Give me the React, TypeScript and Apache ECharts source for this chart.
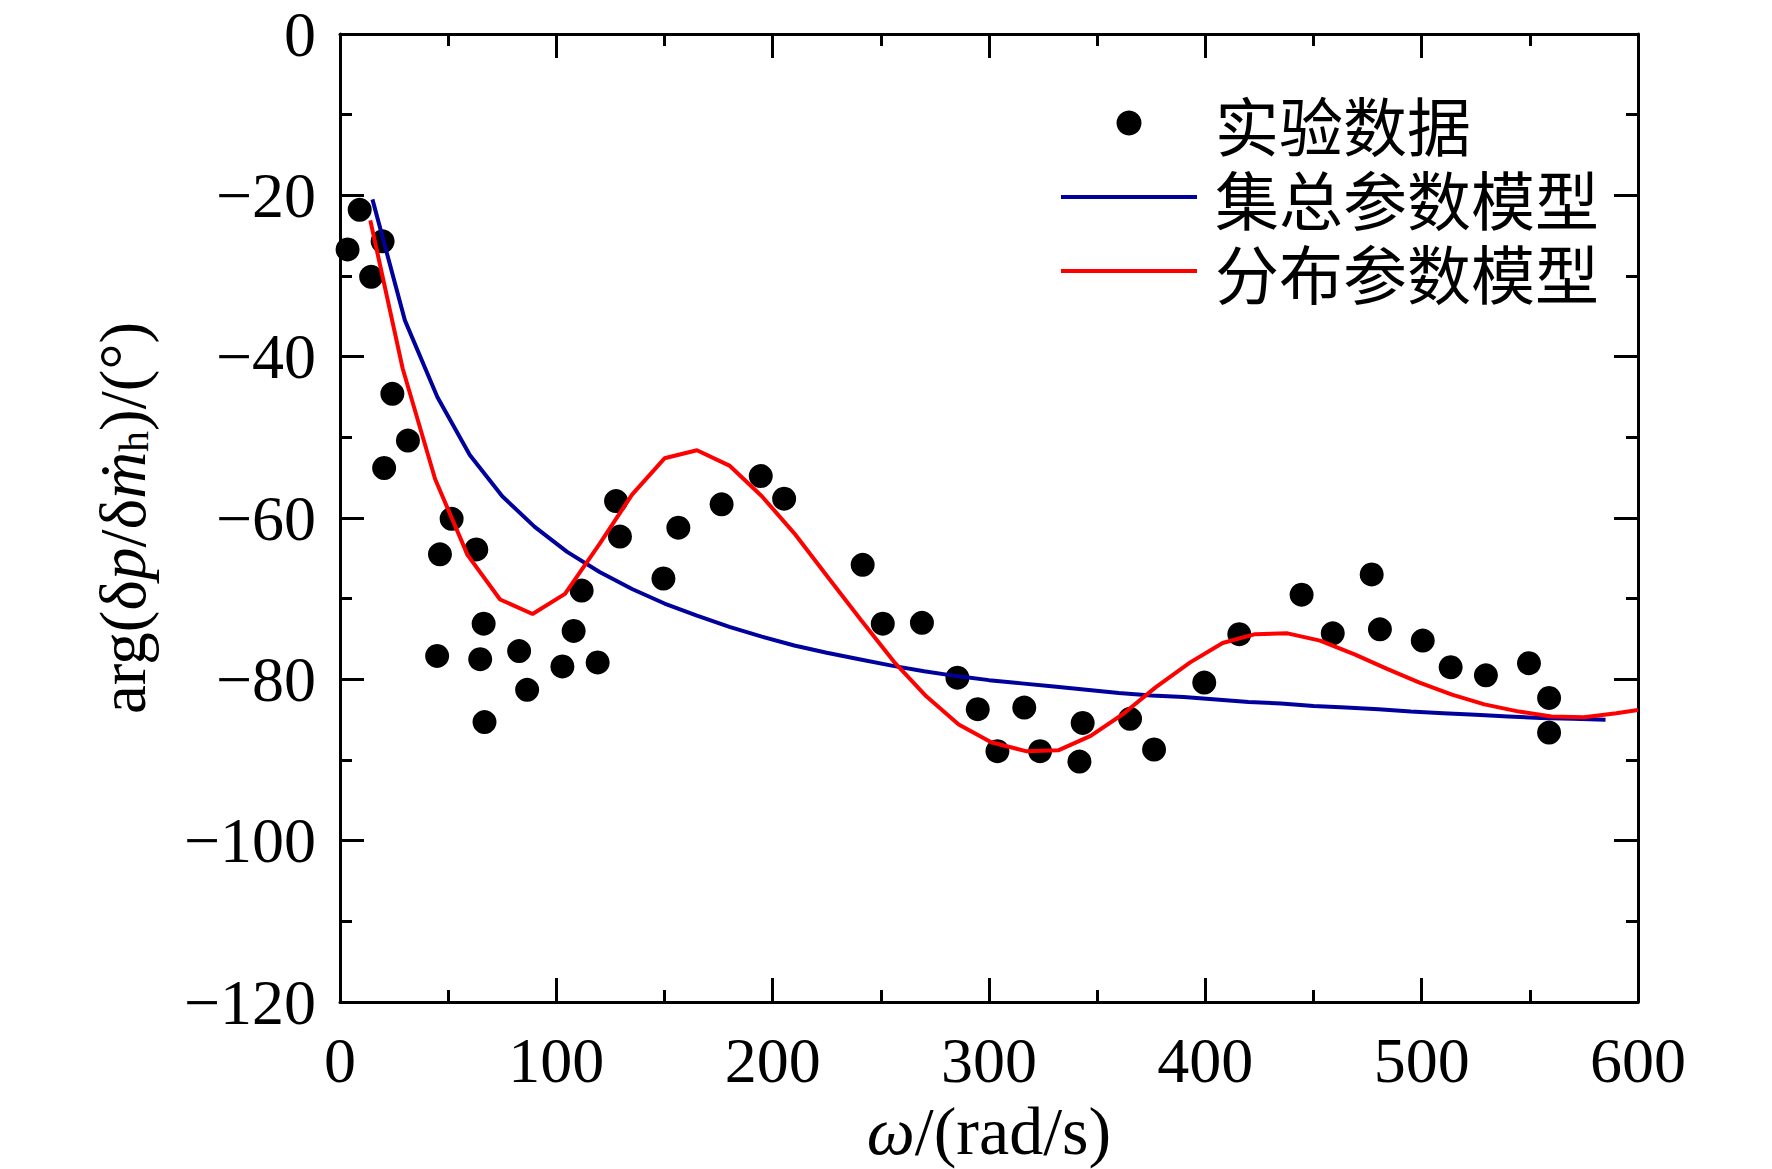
import React, { useEffect, useRef } from 'react';
import * as echarts from 'echarts';

// Experimental data: angular frequency (rad/s) and phase (deg)
const expOmega = [3.5, 9.1, 19.7, 14.4, 24.2, 31.4, 20.4, 51.6, 46.2, 63.0, 127.6, 129.4, 156.4, 176.4, 194.5, 205.3, 149.5, 111.7, 66.4, 108.0, 44.9, 64.8, 82.8, 102.8, 119.1, 86.5, 66.8, 241.6, 250.9, 269.0, 285.4, 294.8, 316.3, 303.9, 323.6, 343.3, 341.8, 365.2, 376.3, 399.5, 415.7, 444.5, 458.9, 476.9, 480.7, 500.5, 513.4, 529.7, 549.6, 558.9, 558.9];
const expPhase = [-26.7, -21.8, -25.7, -30.1, -44.6, -50.4, -53.8, -60.1, -64.5, -63.9, -57.9, -62.3, -61.2, -58.3, -54.8, -57.6, -67.5, -69.0, -73.1, -74.0, -77.1, -77.5, -76.5, -78.4, -77.9, -81.3, -85.3, -65.8, -73.1, -73.0, -79.8, -83.7, -83.5, -88.9, -88.9, -85.4, -90.2, -84.9, -88.7, -80.4, -74.4, -69.5, -74.3, -67.0, -73.8, -75.2, -78.5, -79.5, -78.0, -82.3, -86.6];

// Lumped parameter model
const lumpedOmega = [15, 30, 45, 60, 75, 90, 105, 120, 135, 150, 165, 180, 195, 210, 225, 240, 255, 270, 285, 300, 315, 330, 345, 360, 375, 390, 405, 420, 435, 450, 465, 480, 495, 510, 525, 540, 555, 570, 585];
const lumpedPhase = [-20.5, -35.5, -45.0, -52.2, -57.3, -61.1, -64.2, -66.7, -68.8, -70.6, -72.1, -73.5, -74.7, -75.8, -76.7, -77.5, -78.3, -79.0, -79.6, -80.1, -80.5, -80.9, -81.3, -81.7, -82.0, -82.2, -82.5, -82.8, -83.0, -83.3, -83.5, -83.7, -84.0, -84.2, -84.4, -84.6, -84.8, -84.9, -85.0];

// Distributed parameter model
const distOmega = [14, 29, 44, 59, 74, 89, 104, 120, 135, 150, 165, 180, 195, 210, 226, 241, 256, 271, 286, 301, 317, 332, 347, 362, 377, 393, 408, 423, 438, 453, 469, 484, 499, 514, 529, 545, 560, 575, 590, 600];
const distPhase = [-23.1, -41.5, -55.2, -64.6, -70.1, -71.9, -69.4, -63.2, -57.1, -52.6, -51.6, -53.5, -57.3, -61.9, -67.5, -72.7, -77.8, -82.1, -85.6, -87.8, -88.9, -88.8, -87.0, -84.3, -81.0, -77.9, -75.5, -74.4, -74.3, -75.2, -76.9, -78.7, -80.4, -81.9, -83.1, -84.0, -84.6, -84.7, -84.2, -83.8];

const seriesNames = ['实验数据', '集总参数模型', '分布参数模型'];
const xTicks = { min: 0, max: 600, interval: 100 };
const yTicks = { min: -120, max: 0, interval: 20 };

const SERIF = '"Liberation Serif", "Times New Roman", "DejaVu Serif", serif';
const CJK = '"Noto Sans CJK SC", "Noto Sans CJK JP", sans-serif';

export default function App() {
  const ref = useRef<HTMLDivElement>(null);

  useEffect(() => {
    if (!ref.current) return;
    const chart = echarts.init(ref.current, null, { renderer: 'svg' });

    const axisLine = { show: true, onZero: false, lineStyle: { color: '#000', width: 3 } };
    const axisTick = { show: true, inside: true, length: 24, lineStyle: { color: '#000', width: 3 } };
    const minorTick = { show: true, splitNumber: 2, length: 12, lineStyle: { color: '#000', width: 3 } };
    const labelStyle = { color: '#000', fontSize: 64, fontFamily: SERIF };
    const minus = (v: number) => (v < 0 ? '\u2212' + Math.abs(v) : String(v));

    const legendLine = 'path://M0 0H136V4H0Z';

    chart.setOption({
      animation: false,
      backgroundColor: '#fff',
      grid: { left: 340, right: 134, top: 34, bottom: 167, outerBoundsMode: 'none', containLabel: false },
      legend: {
        orient: 'vertical',
        left: 1061,
        top: 91,
        padding: 0,
        itemGap: 10,
        itemWidth: 136,
        itemHeight: 25,
        selectedMode: false,
        textStyle: { color: '#000', fontSize: 64, lineHeight: 64, fontFamily: CJK, padding: [0, 0, 0, 13] },
        data: [
          { name: seriesNames[0], icon: 'circle' },
          { name: seriesNames[1], icon: legendLine },
          { name: seriesNames[2], icon: legendLine },
        ],
      },
      xAxis: [
        {
          type: 'value', position: 'bottom', ...xTicks,
          axisLine, axisTick, minorTick,
          splitLine: { show: false }, minorSplitLine: { show: false },
          axisLabel: { ...labelStyle, margin: 26 },
          name: '{i|ω}{n|/(rad/s)}',
          nameLocation: 'middle',
          nameGap: 90,
          nameTextStyle: {
            color: '#000', fontSize: 68, fontFamily: SERIF,
            rich: {
              i: { color: '#000', fontSize: 68, fontFamily: SERIF, fontStyle: 'italic' },
              n: { color: '#000', fontSize: 68, fontFamily: SERIF },
            },
          },
        },
        {
          type: 'value', position: 'top', ...xTicks,
          axisLine, axisTick, minorTick,
          splitLine: { show: false }, minorSplitLine: { show: false },
          axisLabel: { show: false },
        },
      ],
      yAxis: [
        {
          type: 'value', position: 'left', ...yTicks,
          axisLine, axisTick, minorTick,
          splitLine: { show: false }, minorSplitLine: { show: false },
          axisLabel: { ...labelStyle, margin: 24, formatter: minus },
          name: '{n|arg(δ}{i|p}{n|/δ}{i|ṁ}{s|h}{n|)/(°)}',
          nameLocation: 'middle',
          nameRotate: 90,
          nameGap: 185,
          nameTextStyle: {
            color: '#000', fontSize: 65, fontFamily: SERIF,
            rich: {
              n: { color: '#000', fontSize: 65, fontFamily: SERIF, lineHeight: 65 },
              i: { color: '#000', fontSize: 65, fontFamily: SERIF, fontStyle: 'italic', lineHeight: 65 },
              s: { color: '#000', fontSize: 42, fontFamily: SERIF, lineHeight: 28, verticalAlign: 'bottom' },
            },
          },
        },
        {
          type: 'value', position: 'right', ...yTicks,
          axisLine, axisTick, minorTick,
          splitLine: { show: false }, minorSplitLine: { show: false },
          axisLabel: { show: false },
        },
      ],
      series: [
        {
          name: seriesNames[0],
          type: 'scatter',
          xAxisIndex: 0, yAxisIndex: 0,
          symbol: 'circle',
          symbolSize: 24,
          itemStyle: { color: '#000', opacity: 1 },
          z: 2,
          data: expOmega.map((w, i) => [w, expPhase[i]]),
        },
        {
          name: seriesNames[1],
          type: 'line',
          xAxisIndex: 0, yAxisIndex: 0,
          showSymbol: false,
          symbol: 'none',
          smooth: false,
          itemStyle: { color: '#00009c' },
          lineStyle: { color: '#00009c', width: 4 },
          z: 3,
          data: lumpedOmega.map((w, i) => [w, lumpedPhase[i]]),
        },
        {
          name: seriesNames[2],
          type: 'line',
          xAxisIndex: 0, yAxisIndex: 0,
          showSymbol: false,
          symbol: 'none',
          smooth: false,
          itemStyle: { color: '#ff0000' },
          lineStyle: { color: '#ff0000', width: 4 },
          z: 4,
          data: distOmega.map((w, i) => [w, distPhase[i]]),
        },
      ],
    });

    return () => chart.dispose();
  }, []);

  return (
    <div
      ref={ref}
      style={{ position: 'absolute', left: 0, top: 0, width: 1772, height: 1169, background: '#fff' }}
    />
  );
}
